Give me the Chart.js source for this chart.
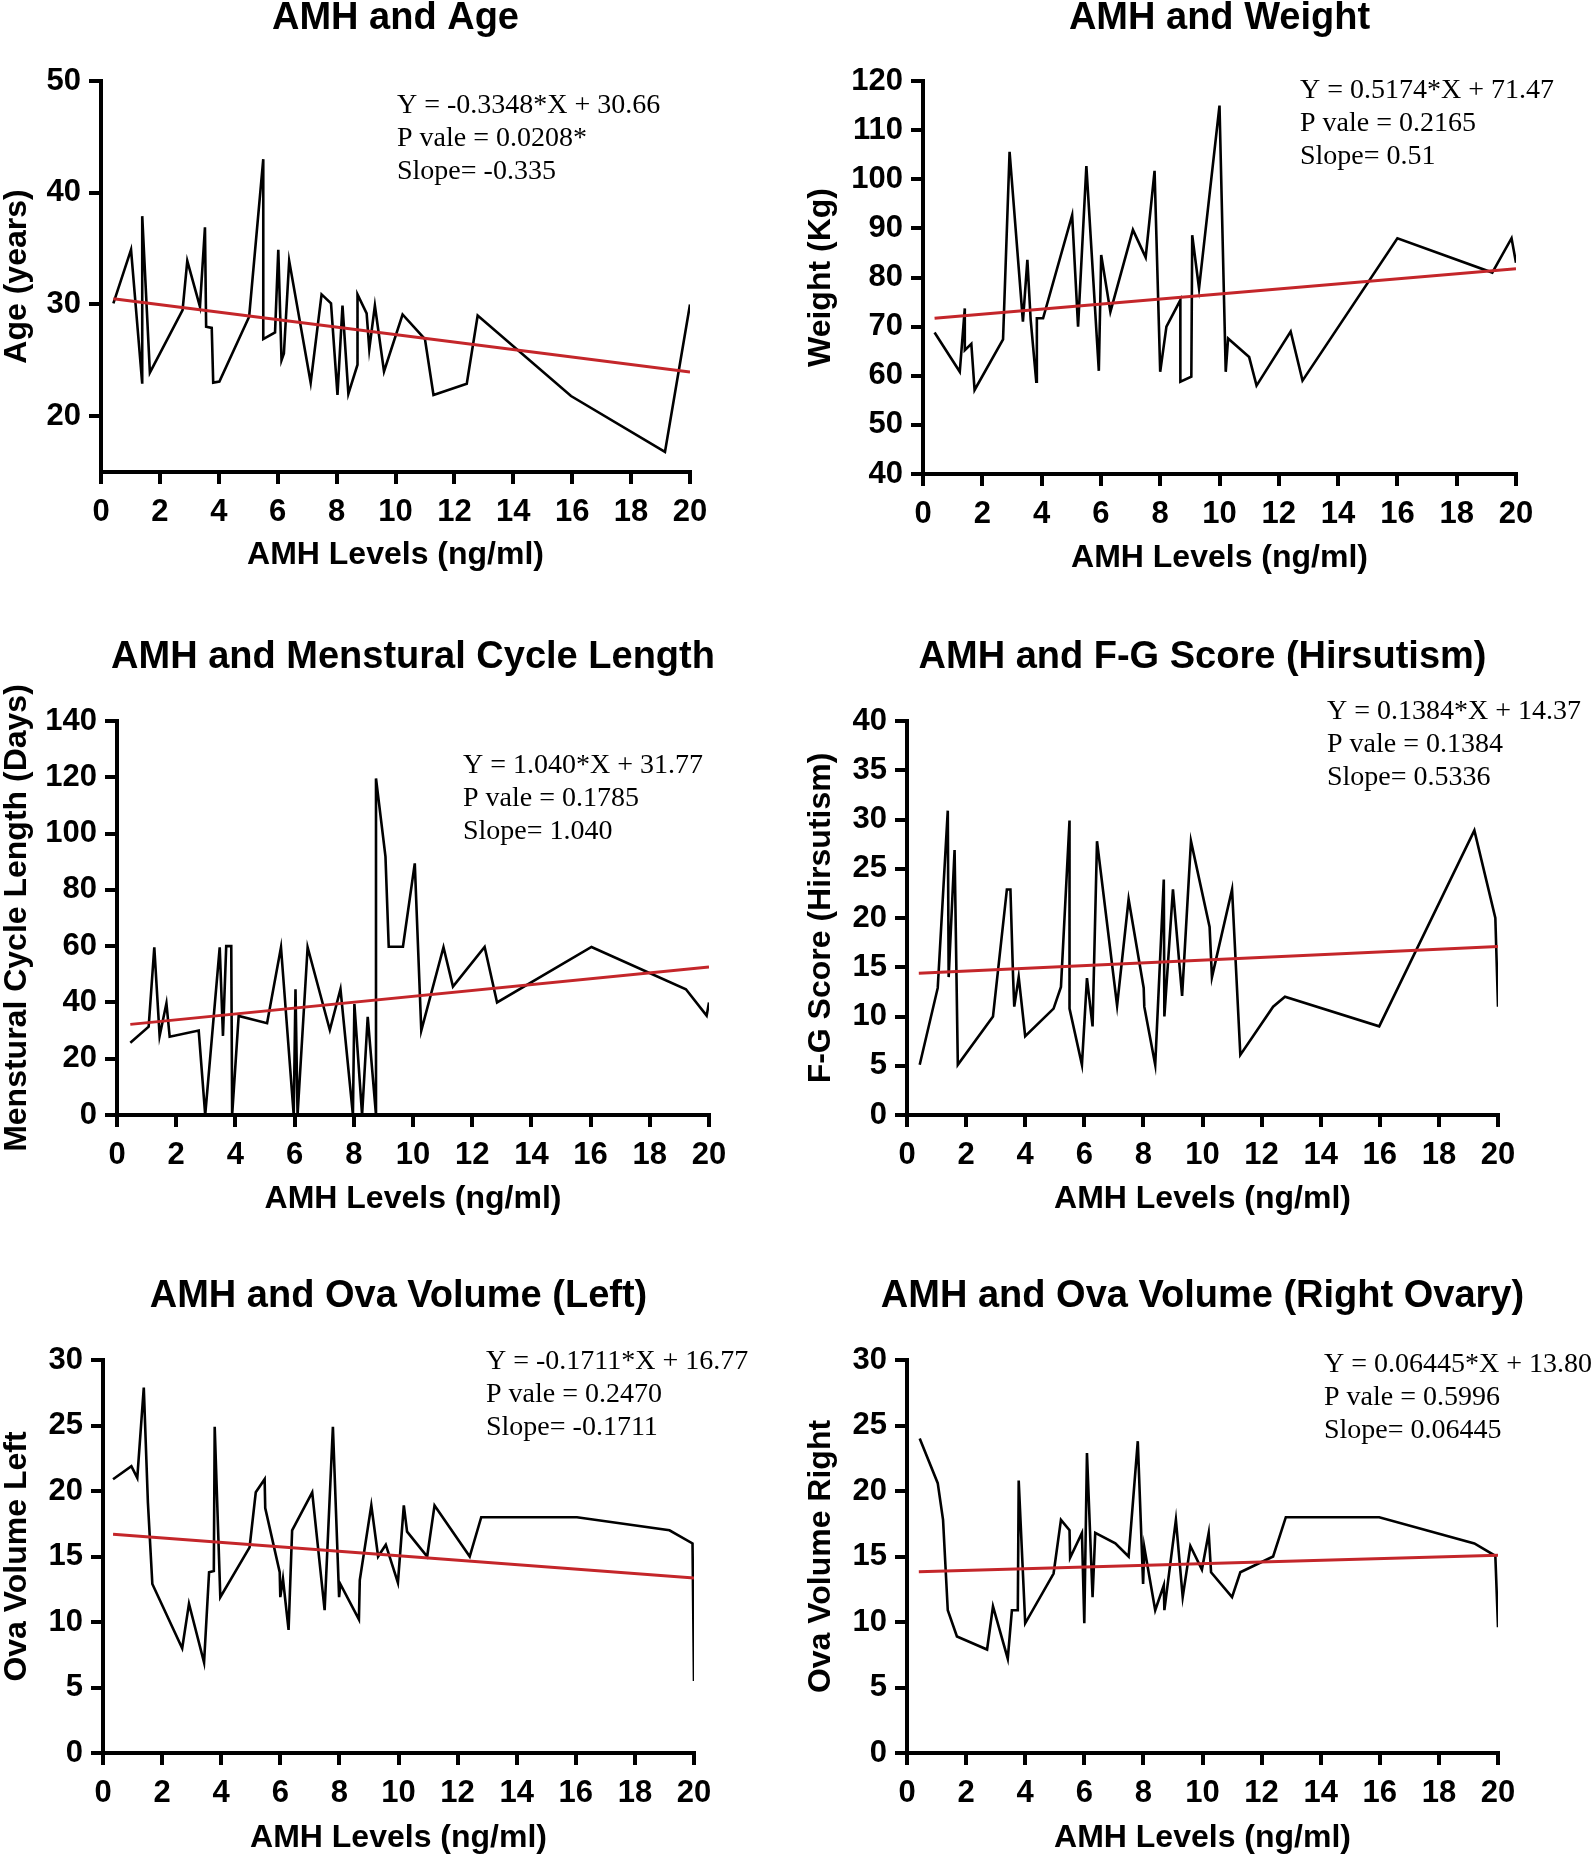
<!DOCTYPE html>
<html>
<head>
<meta charset="utf-8">
<script src="https://cdn.jsdelivr.net/npm/chart.js@4.4.1/dist/chart.umd.min.js"></script>
<style>
  body { margin: 0; background: #fff; width: 1594px; height: 1860px; position: relative; overflow: hidden; }
  canvas { position: absolute; }
</style>
</head>
<body>
<canvas id="c1" width="797" height="600" style="left:0;top:0"></canvas>
<canvas id="c2" width="797" height="600" style="left:797px;top:0"></canvas>
<canvas id="c3" width="797" height="620" style="left:0;top:620px"></canvas>
<canvas id="c4" width="797" height="620" style="left:797px;top:620px"></canvas>
<canvas id="c5" width="797" height="610" style="left:0;top:1250px"></canvas>
<canvas id="c6" width="797" height="610" style="left:797px;top:1250px"></canvas>
<script>
// AMH levels (x) and values
var ageAmh = [0.42,1.02,1.40,1.40,1.66,2.77,2.93,3.36,3.53,3.57,3.76,3.81,4.02,5.03,5.51,5.51,5.91,6.02,6.13,6.21,6.39,7.12,7.49,7.81,8.03,8.20,8.40,8.71,8.71,9.02,9.11,9.30,9.61,10.24,11.0,11.29,12.42,12.79,15.96,19.15,20.0];
var ageVals = [30.1,34.9,22.9,37.9,23.9,29.5,33.9,29.8,36.9,28.0,27.9,23.0,23.1,28.9,43.0,26.9,27.5,34.9,25.0,25.6,33.9,23.0,30.9,30.1,21.9,29.9,22.0,24.6,30.9,29.2,26.0,29.9,24.0,29.1,26.9,21.9,22.9,29.0,21.8,16.8,30.0];

var wtAmh = [0.39,1.24,1.41,1.41,1.63,1.74,2.70,2.92,3.37,3.52,3.63,3.82,3.84,4.05,5.03,5.23,5.51,5.93,6.01,6.32,7.08,7.51,7.81,8.00,8.21,8.68,8.68,9.05,9.08,9.31,10.0,10.21,10.29,11.0,11.25,12.4,12.8,16.0,19.2,19.85,20.0];
var wtVals = [68.8,60.8,73.7,65.2,66.5,57.1,67.4,105.6,71.0,83.6,71.5,58.8,71.7,71.7,92.7,70.0,102.7,61.0,84.6,73.0,89.7,84.1,101.7,60.8,70.0,75.4,58.8,59.8,88.6,77.8,115,60.8,67.6,63.8,58.0,69,59,88,81,88,83];

var mcAmh = [0.45,1.07,1.26,1.44,1.67,1.78,2.76,2.98,3.47,3.58,3.69,3.86,3.89,4.11,5.07,5.54,5.97,6.03,6.10,6.44,7.19,7.55,7.97,8.02,8.28,8.47,8.75,8.75,9.07,9.18,9.66,10.06,10.28,11.03,11.35,12.42,12.84,16.03,19.22,19.92,20.0];
var mcVals = [25.7,31.4,59.6,28.1,39.7,27.8,30.0,0,59.6,28.1,60,60,0,35.2,32.6,59.6,0,44.7,0,59.6,30.2,44.7,0,39.4,0,34.9,0,119.6,91.8,59.8,59.8,89.4,30.0,59.6,45.6,59.7,40,59.7,44.7,35.3,40];

var fgAmh = [0.43,1.04,1.38,1.41,1.61,1.72,2.91,3.38,3.50,3.59,3.63,3.78,4.0,4.96,5.21,5.50,5.50,5.92,6.09,6.28,6.43,7.11,7.50,8.01,8.03,8.40,8.69,8.71,9.0,9.31,9.61,10.24,10.32,11.0,11.28,12.39,12.79,15.98,19.2,19.91,20.0];
var fgVals = [5.1,12.9,30.9,14.0,26.9,5.1,10.0,22.9,22.9,14.0,11.0,14.0,8.0,10.8,13.0,29.9,10.8,5.1,13.9,9.0,27.8,11.1,21.9,12.9,11.0,5.1,23.9,10.0,22.9,12.1,27.8,19.1,14.0,22.9,6.1,11.0,12.0,9.0,28.9,20,11];

var ovlAmh = [0.34,0.96,1.16,1.38,1.52,1.67,2.68,2.91,3.42,3.59,3.75,3.78,3.97,4.96,5.17,5.47,5.49,5.98,6.0,6.09,6.28,6.40,7.08,7.50,7.78,7.99,8.03,8.66,8.69,9.08,9.31,9.57,9.98,10.18,10.29,10.97,11.22,12.41,12.8,16.04,19.17,19.95,20.0];
var ovlVals = [20.9,21.9,21.0,27.9,19.1,12.9,8.0,11.4,6.9,13.8,13.9,24.9,11.9,15.7,19.9,20.9,18.7,13.8,11.9,13.3,9.4,17.0,19.9,10.9,24.9,11.9,12.9,10.2,13.2,18.9,15.0,15.9,13.0,18.9,16.9,15.0,18.9,15.0,18.0,18.0,17.0,16.0,5.5];

var ovrAmh = [0.43,1.04,1.22,1.38,1.69,2.71,2.91,3.41,3.55,3.75,3.78,4.0,4.96,5.21,5.50,5.52,5.92,6.0,6.09,6.28,6.37,7.05,7.50,7.81,7.99,8.03,8.40,8.69,8.71,9.10,9.33,9.59,9.98,10.21,10.29,11.0,11.28,12.39,12.82,15.98,19.2,19.91,20.0];
var ovrVals = [24.0,20.6,17.8,10.9,8.9,7.9,11.2,7.2,10.9,10.9,20.8,9.9,13.7,17.8,17.0,14.9,16.8,9.9,22.9,11.9,16.8,16.0,15.0,23.8,12.9,15.7,10.9,12.8,10.9,17.8,11.9,15.8,14.0,16.8,13.8,11.9,13.8,15.0,18.0,18.0,16.0,15.05,9.6];

// regression line ends [x0, y0, x1, y1]
var ageFit = [0.42, 30.5, 20, 23.96];
var wtFit = [0.39, 71.7, 20, 81.8];
var mcFit = [0.45, 32.2, 20, 52.6];
var fgFit = [0.4, 14.4, 20, 17.1];
var ovlFit = [0.34, 16.7, 20, 13.35];
var ovrFit = [0.4, 13.83, 20, 15.09];

var xTicks = [0, 20, 2];

var sans = '"Liberation Sans", Arial, sans-serif';
var tickFam = '"Liberation Sans Narrow", "Arial Narrow", "Liberation Sans", sans-serif';

function pts(xs, ys) {
  var out = [];
  for (var i = 0; i < xs.length; i++) out.push({x: xs[i], y: ys[i]});
  return out;
}

function makePanel(id, p) {
  var cv = document.getElementById(id);
  var textPlugin = {
    id: 'panelText',
    afterDraw: function(chart) {
      var ctx = chart.ctx, a = chart.chartArea;
      ctx.save();
      ctx.fillStyle = '#000';
      ctx.font = 'bold 38px ' + sans;
      ctx.textAlign = 'center';
      ctx.textBaseline = 'middle';
      ctx.fillText(p.title, (a.left + a.right) / 2, p.titleY + 2);
      ctx.font = '28px "Liberation Serif", "Times New Roman", serif';
      ctx.textAlign = 'left';
      for (var i = 0; i < p.notes.length; i++) {
        ctx.fillText(p.notes[i], p.noteX, p.noteY + 2 + i * 33);
      }
      ctx.restore();
    }
  };

  new Chart(cv, {
    type: 'line',
    data: {
      datasets: [
        {
          data: [{x: p.fit[0], y: p.fit[1]}, {x: p.fit[2], y: p.fit[3]}],
          borderColor: '#c4262a',
          borderWidth: 3,
          pointRadius: 0,
          tension: 0
        },
        {
          data: pts(p.xs, p.ys),
          borderColor: '#000',
          borderWidth: 2.6,
          pointRadius: 0,
          tension: 0
        }
      ]
    },
    options: {
      responsive: false,
      animation: false,
      layout: {padding: {top: p.padTop, right: p.padRight, left: 0, bottom: 0}},
      plugins: {legend: {display: false}, tooltip: {enabled: false}, title: {display: false}},
      scales: {
        x: {
          type: 'linear',
          min: xTicks[0], max: xTicks[1],
          ticks: {stepSize: xTicks[2], color: '#000', padding: 10, maxRotation: 0, autoSkip: false,
                  font: {family: tickFam, size: 31, weight: 'bold'}},
          grid: {drawOnChartArea: false, drawTicks: true, tickLength: 12, color: '#000', lineWidth: 4},
          border: {display: true, color: '#000', width: 4},
          title: {display: true, text: 'AMH Levels (ng/ml)', color: '#000', padding: {top: 0, bottom: p.xTitlePad},
                  font: {family: sans, size: 32, weight: 'bold', lineHeight: 1}},
          afterFit: function(s) { s.height = p.xBox; }
        },
        y: {
          type: 'linear',
          min: p.yMin, max: p.yMax,
          ticks: {stepSize: p.yStep, color: '#000', padding: 8,
                  font: {family: tickFam, size: 31, weight: 'bold'}},
          afterBuildTicks: function(s) {
            s.ticks = s.ticks.filter(function(t) { return Math.abs(t.value % p.yStep) < 1e-6; });
          },
          grid: {drawOnChartArea: false, drawTicks: true, tickLength: 12, color: '#000', lineWidth: 4},
          border: {display: true, color: '#000', width: 4},
          title: {display: true, text: p.yTitle, color: '#000', padding: {top: p.yTitlePad, bottom: 0},
                  font: {family: sans, size: 32, weight: 'bold', lineHeight: 1}},
          afterFit: function(s) { s.width = p.yBox; }
        }
      }
    },
    plugins: [textPlugin]
  });
}

makePanel('c1', {
  title: 'AMH and Age', titleY: 17,
  notes: ['Y = -0.3348*X + 30.66', 'P vale = 0.0208*', 'Slope= -0.335'], noteX: 397, noteY: 104,
  xs: ageAmh, ys: ageVals, fit: ageFit,
  yMin: 15, yMax: 50, yStep: 10, yTitle: 'Age (years)',
  padTop: 81, padRight: 107, xBox: 128, xTitlePad: 29, yBox: 101, yTitlePad: 1
});
makePanel('c2', {
  title: 'AMH and Weight', titleY: 17,
  notes: ['Y = 0.5174*X + 71.47', 'P vale = 0.2165', 'Slope= 0.51'], noteX: 503, noteY: 89,
  xs: wtAmh, ys: wtVals, fit: wtFit,
  yMin: 40, yMax: 120, yStep: 10, yTitle: 'Weight (Kg)',
  padTop: 81, padRight: 78, xBox: 126, xTitlePad: 26, yBox: 126, yTitlePad: 8
});
makePanel('c3', {
  title: 'AMH and Menstural Cycle Length', titleY: 36,
  notes: ['Y = 1.040*X + 31.77', 'P vale = 0.1785', 'Slope= 1.040'], noteX: 463, noteY: 144,
  xs: mcAmh, ys: mcVals, fit: mcFit,
  yMin: 0, yMax: 140, yStep: 20, yTitle: 'Menstural Cycle Length (Days)',
  padTop: 101, padRight: 88, xBox: 125, xTitlePad: 25, yBox: 117, yTitlePad: 1
});
makePanel('c4', {
  title: 'AMH and F-G Score (Hirsutism)', titleY: 36,
  notes: ['Y = 0.1384*X + 14.37', 'P vale = 0.1384', 'Slope= 0.5336'], noteX: 530, noteY: 90,
  xs: fgAmh, ys: fgVals, fit: fgFit,
  yMin: 0, yMax: 40, yStep: 5, yTitle: 'F-G Score (Hirsutism)',
  padTop: 101, padRight: 96, xBox: 125, xTitlePad: 25, yBox: 110, yTitlePad: 8
});
makePanel('c5', {
  title: 'AMH and Ova Volume (Left)', titleY: 45,
  notes: ['Y = -0.1711*X + 16.77', 'P vale = 0.2470', 'Slope= -0.1711'], noteX: 486, noteY: 110,
  xs: ovlAmh, ys: ovlVals, fit: ovlFit,
  yMin: 0, yMax: 30, yStep: 5, yTitle: 'Ova Volume Left',
  padTop: 110, padRight: 103, xBox: 107, xTitlePad: 6, yBox: 103, yTitlePad: 1
});
makePanel('c6', {
  title: 'AMH and Ova Volume (Right Ovary)', titleY: 45,
  notes: ['Y = 0.06445*X + 13.80', 'P vale = 0.5996', 'Slope= 0.06445'], noteX: 527, noteY: 113,
  xs: ovrAmh, ys: ovrVals, fit: ovrFit,
  yMin: 0, yMax: 30, yStep: 5, yTitle: 'Ova Volume Right',
  padTop: 110, padRight: 96, xBox: 107, xTitlePad: 6, yBox: 110, yTitlePad: 8
});
</script>
</body>
</html>
